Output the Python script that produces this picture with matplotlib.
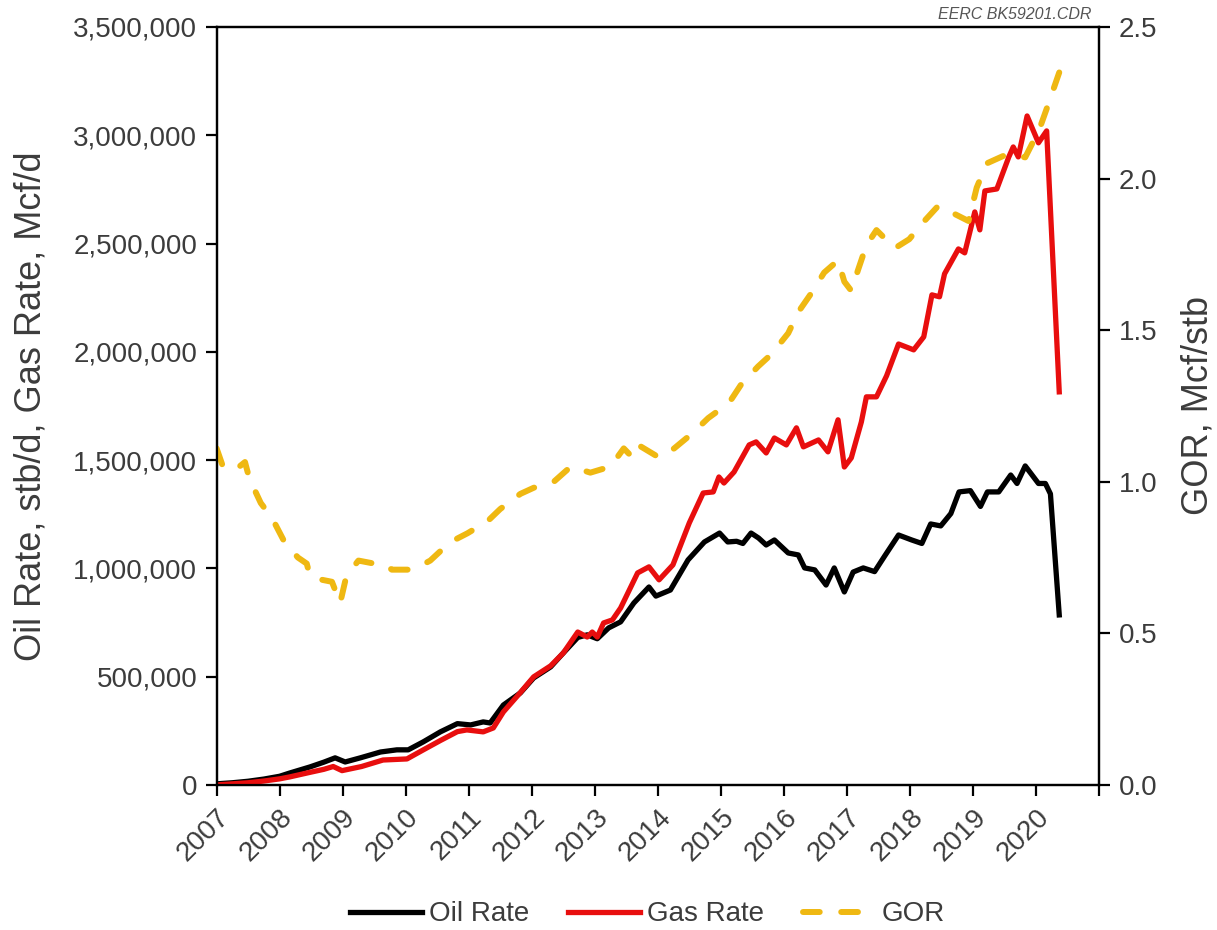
import matplotlib
matplotlib.use("Agg")
import matplotlib.pyplot as plt
from matplotlib.ticker import FuncFormatter, MultipleLocator
from matplotlib.transforms import ScaledTranslation

# ---- production history (decimal year, value) ----
oil_years = [2007.00, 2007.25, 2007.50, 2007.75, 2008.00, 2008.16, 2008.48, 2008.70,
             2008.88, 2009.04, 2009.28, 2009.60, 2009.86, 2010.04, 2010.28, 2010.55,
             2010.82, 2011.03, 2011.23, 2011.34, 2011.55, 2011.82, 2012.03, 2012.30,
             2012.50, 2012.73, 2012.88, 2013.04, 2013.22, 2013.41, 2013.62, 2013.86,
             2013.97, 2014.20, 2014.48, 2014.74, 2014.98, 2015.11, 2015.25, 2015.35,
             2015.48, 2015.60, 2015.72, 2015.85, 2016.07, 2016.23, 2016.33, 2016.49,
             2016.67, 2016.80, 2016.96, 2017.10, 2017.26, 2017.44, 2017.60, 2017.82,
             2018.03, 2018.19, 2018.33, 2018.49, 2018.65, 2018.78, 2018.96, 2019.12,
             2019.23, 2019.41, 2019.60, 2019.70, 2019.83, 2020.04, 2020.15, 2020.23,
             2020.37]
oil_rate = [5000, 10000, 17000, 27000, 40000, 55000, 83000, 105000,
            125000, 106000, 125000, 152000, 162000, 162000, 199000, 245000,
            283000, 277000, 291000, 286000, 369000, 425000, 494000, 545000,
            609000, 681000, 693000, 675000, 725000, 753000, 840000, 914000,
            872000, 900000, 1039000, 1122000, 1163000, 1122000, 1125000, 1115000,
            1163000, 1140000, 1108000, 1131000, 1071000, 1062000, 1002000, 993000,
            923000, 1002000, 891000, 983000, 1002000, 985000, 1057000, 1154000,
            1131000, 1115000, 1205000, 1196000, 1253000, 1353000, 1359000, 1286000,
            1353000, 1353000, 1431000, 1392000, 1473000, 1392000, 1392000, 1344000,
            785000]

gas_years = [2007.00, 2007.25, 2007.50, 2007.75, 2008.00, 2008.16, 2008.48, 2008.70,
             2008.85, 2008.99, 2009.30, 2009.64, 2010.02, 2010.28, 2010.55, 2010.82,
             2010.97, 2011.23, 2011.39, 2011.55, 2011.80, 2012.03, 2012.30, 2012.50,
             2012.73, 2012.88, 2012.96, 2013.04, 2013.14, 2013.28, 2013.41, 2013.68,
             2013.86, 2014.02, 2014.24, 2014.50, 2014.72, 2014.88, 2014.97, 2015.05,
             2015.21, 2015.45, 2015.56, 2015.72, 2015.85, 2016.04, 2016.20, 2016.31,
             2016.55, 2016.70, 2016.86, 2016.96, 2017.07, 2017.23, 2017.31, 2017.47,
             2017.63, 2017.82, 2018.06, 2018.22, 2018.35, 2018.47, 2018.55, 2018.77,
             2018.87, 2019.03, 2019.11, 2019.19, 2019.38, 2019.57, 2019.64, 2019.72,
             2019.86, 2020.04, 2020.17, 2020.37]
gas_rate = [0, 5000, 10000, 18000, 28000, 37000, 58000, 72000,
            85000, 66000, 85000, 115000, 120000, 162000, 205000, 246000,
            254000, 245000, 263000, 337000, 420000, 499000, 550000, 609000,
            706000, 683000, 706000, 683000, 748000, 762000, 817000, 979000,
            1007000, 947000, 1016000, 1210000, 1348000, 1353000, 1422000, 1394000,
            1445000, 1570000, 1584000, 1533000, 1602000, 1570000, 1649000, 1561000,
            1593000, 1538000, 1686000, 1468000, 1510000, 1676000, 1792000, 1792000,
            1889000, 2036000, 2009000, 2069000, 2263000, 2254000, 2360000, 2475000,
            2457000, 2646000, 2563000, 2743000, 2752000, 2900000, 2946000, 2900000,
            3089000, 2965000, 3020000, 1815000]

gor_years = [2007.00, 2007.10, 2007.30, 2007.45, 2007.52, 2007.70, 2007.88, 2008.08,
             2008.29, 2008.43, 2008.48, 2008.59, 2008.83, 2008.96, 2009.06, 2009.25,
             2009.50, 2009.65, 2009.78, 2010.12, 2010.39, 2010.70, 2010.98, 2011.30,
             2011.50, 2011.82, 2012.03, 2012.35, 2012.62, 2012.93, 2013.25, 2013.46,
             2013.60, 2013.70, 2014.02, 2014.26, 2014.55, 2014.80, 2015.13, 2015.32,
             2015.59, 2015.80, 2016.07, 2016.23, 2016.43, 2016.64, 2016.86, 2016.96,
             2017.07, 2017.18, 2017.31, 2017.47, 2017.76, 2017.99, 2018.23, 2018.45,
             2018.74, 2018.93, 2019.06, 2019.22, 2019.54, 2019.83, 2020.05, 2020.17,
             2020.37]
gor = [1.11, 1.05, 1.04, 1.065, 1.01, 0.93, 0.88, 0.80,
       0.75, 0.73, 0.69, 0.68, 0.67, 0.60, 0.69, 0.74,
       0.73, 0.73, 0.71, 0.71, 0.74, 0.80, 0.83, 0.87,
       0.91, 0.96, 0.98, 1.00, 1.05, 1.03, 1.05, 1.11,
       1.08, 1.12, 1.08, 1.11, 1.16, 1.21, 1.26, 1.32,
       1.38, 1.42, 1.49, 1.56, 1.62, 1.69, 1.73, 1.66,
       1.63, 1.70, 1.78, 1.83, 1.77, 1.80, 1.86, 1.91,
       1.88, 1.86, 1.97, 2.05, 2.08, 2.07, 2.16, 2.23,
       2.35]

year_ticks = list(range(2007, 2022))
year_labels = [str(y) for y in range(2007, 2021)] + [""]

# ---- styling ----
plt.rcParams["font.family"] = ["Liberation Sans", "DejaVu Sans"]
TXT = "#3c3c3c"
FS = 20
OIL_C = "black"
GAS_C = "#e80e0e"
GOR_C = "#efb812"

fig = plt.figure(figsize=(12.17, 9.30), dpi=100)
ax = fig.add_axes([0.178, 0.156, 0.725, 0.815])
ax2 = ax.twinx()

l_oil, = ax.plot(oil_years, oil_rate, color=OIL_C, lw=3.8, solid_joinstyle="round",
                 label="Oil Rate", zorder=3)
l_gas, = ax.plot(gas_years, gas_rate, color=GAS_C, lw=3.8, solid_joinstyle="round",
                 label="Gas Rate", zorder=4)
l_gor, = ax2.plot(gor_years, gor, color=GOR_C, lw=4.3, dashes=(2.8, 3.6),
                  dash_capstyle="round", label="GOR")

ax.set_xlim(2007, 2021)
ax.set_ylim(0, 3500000)
ax2.set_ylim(0, 2.5)

ax.set_xticks(year_ticks)
ax.set_xticklabels(year_labels, rotation=45, ha="right", rotation_mode="anchor")
# nudge the slanted year labels a little to the right of their ticks
shift = ScaledTranslation(10 / 100, 0, fig.dpi_scale_trans)
for lbl in ax.get_xticklabels():
    lbl.set_transform(lbl.get_transform() + shift)

ax.yaxis.set_major_locator(MultipleLocator(500000))
ax.yaxis.set_major_formatter(FuncFormatter(lambda v, p: f"{int(v):,}"))
ax2.yaxis.set_major_locator(MultipleLocator(0.5))
ax2.yaxis.set_major_formatter(FuncFormatter(lambda v, p: f"{v:.1f}"))

for a in (ax, ax2):
    for sp in a.spines.values():
        sp.set_linewidth(1.6)
        sp.set_color("black")
    a.tick_params(axis="both", direction="out", length=8, width=1.6,
                  labelsize=FS, labelcolor=TXT, pad=6)
ax.tick_params(axis="x", pad=6)

ax.set_ylabel("Oil Rate, stb/d, Gas Rate, Mcf/d", fontsize=26, color=TXT)
ax.yaxis.set_label_coords(-0.19, 0.5)
ax2.set_ylabel("GOR, Mcf/stb", fontsize=26, color=TXT)
ax2.yaxis.set_label_coords(1.092, 0.5)

fig.text(0.897, 0.976, "EERC BK59201.CDR", fontsize=11.5, style="italic",
         color="#555555", ha="right", va="bottom")

fig.legend(handles=[l_oil, l_gas, l_gor], loc="lower center",
           bbox_to_anchor=(0.532, -0.024), ncol=3, frameon=False, fontsize=FS,
           handlelength=2.6, handletextpad=0.25, columnspacing=1.4,
           labelcolor=TXT)

fig.savefig("out.png", dpi=100)
